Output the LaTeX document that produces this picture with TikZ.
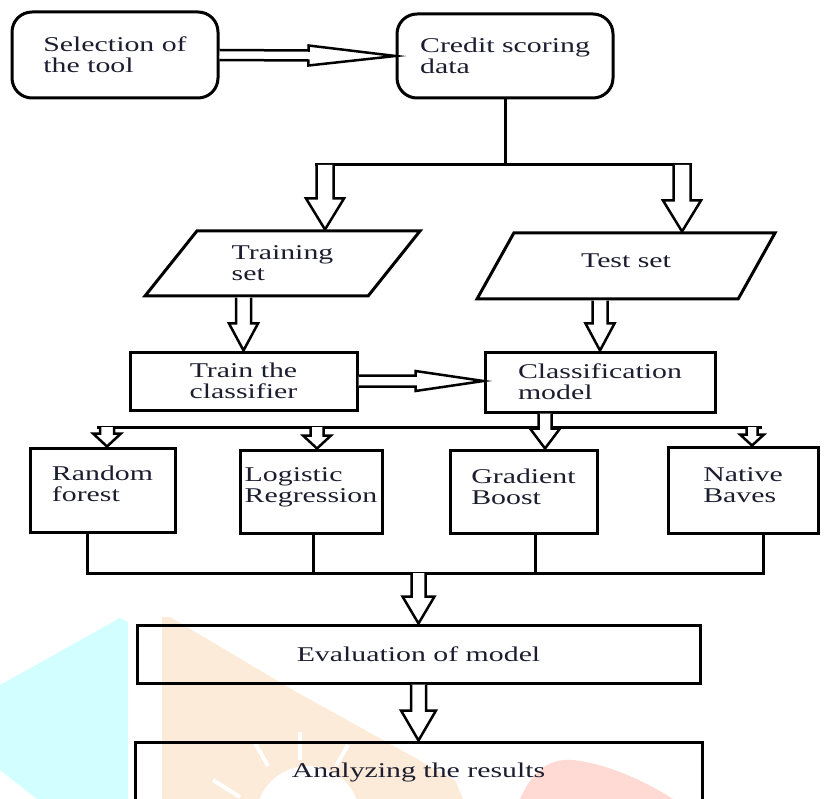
\documentclass[tikz,border=0pt]{standalone}
\usepackage{fontspec}
\setmainfont[FakeStretch=1.42]{Liberation Serif}
\usetikzlibrary{calc,shapes.geometric}

\definecolor{txtcol}{RGB}{28,30,48}
\definecolor{wmcyan}{RGB}{210,254,255}
\definecolor{wmorange}{RGB}{253,235,217}
\definecolor{wmpink}{RGB}{255,218,213}

\tikzset{
  box/.style={draw,line width=3pt,inner sep=2pt,text=txtcol,align=left,
    font=\fontsize{21}{21}\selectfont},
  roundbox/.style={box,rounded corners=20pt},
  dataset/.style={box,trapezium,trapezium left angle=37,trapezium right angle=143,
    trapezium stretches body},
  algbox/.style={box,text depth=13pt},
  link/.style={line width=3pt,line cap=rect},
}

% hollow block arrow: from, to, shaft half width, head half width, head length
\newcommand{\hollowarrow}[5]{%
  \coordinate (ha) at ($(#2)!#5!(#1)$);
  \draw[line width=2.5pt,fill=white]
    ($(#1)!#3!90:(#2)$) -- ($(ha)!#3!90:(#2)$) -- ($(ha)!#4!90:(#2)$) -- (#2)
    -- ($(ha)!#4!-90:(#2)$) -- ($(ha)!#3!-90:(#2)$) -- ($(#1)!#3!-90:(#2)$);
}

\begin{document}
\begin{tikzpicture}[x=1pt,y=-1pt]
\useasboundingbox (0,0) rectangle (824,799);
\clip (0,0) rectangle (824,799);

% faint watermark behind the lower part
\fill[wmcyan] (0,685) -- (120,618) -- (128,622) -- (128,799) -- (37,799) -- (0,770) -- cycle;
\fill[wmorange] (162,617) -- (170,617) -- (293,690) -- (455,780) -- (463,799) -- (162,799) -- cycle;
\fill[white] (308,818) circle[radius=52pt];
\draw[white,line width=4pt] (300,732) -- (300,760);
\draw[white,line width=4pt] (255,743) -- (268,766);
\draw[white,line width=4pt] (348,745) -- (336,766);
\draw[white,line width=4pt] (213,780) -- (240,797);
\fill[wmpink] (520,799) .. controls (532,772) and (548,758) .. (573,760)
  .. controls (610,764) and (650,784) .. (673,799) -- cycle;

\node[roundbox,minimum width=206pt,minimum height=86pt] (sel) at (115,55) {Selection of\\the tool};
\node[roundbox,minimum width=216pt,minimum height=84pt] (cred) at (505,56) {Credit scoring\\data};

\node[dataset,minimum width=275pt,minimum height=65pt] (trset) at (282.5,263.5) {Training\\set};
\node[dataset,minimum width=298pt,minimum height=66pt,text depth=10pt] (teset) at (626,266) {Test set};

\node[box,minimum width=227pt,minimum height=58pt,align=center] (trcls) at (243.5,381) {Train the\\classifier};
\node[box,minimum width=230pt,minimum height=60pt] (model) at (600,382) {Classification\\model};

\node[algbox,minimum width=145pt,minimum height=84pt] (rf) at (102.5,490) {Random\\forest};
\node[algbox,minimum width=142pt,minimum height=83pt] (lr) at (311,491.5) {Logistic\\Regression};
\node[algbox,minimum width=147pt,minimum height=83pt,text depth=9pt] (gb) at (523.5,491.5) {Gradient\\Boost};
\node[algbox,minimum width=150pt,minimum height=86pt,text depth=9pt] (nb) at (743,490) {Native\\Baves};

\node[box,minimum width=563pt,minimum height=58pt,align=center] (eval) at (418.5,654) {Evaluation of model};
\node[box,minimum width=567pt,minimum height=60pt,align=center] (res) at (418.5,772) {Analyzing the results};

% top part
\hollowarrow{sel.east}{cred.west}{5pt}{10pt}{87pt}
\coordinate (split) at (505,165);
\coordinate (splitL) at (325,165);
\coordinate (splitR) at (682,165);
\draw[link] (cred.south) -- (split);
\draw[link] ($(splitL)+(-8.5,0)$) -- ($(splitR)+(8.5,0)$);
\hollowarrow{splitL}{splitL |- trset.north}{8.5pt}{19pt}{31pt}
\hollowarrow{splitR}{splitR |- teset.north}{8.5pt}{19pt}{31pt}

\hollowarrow{trcls.north |- trset.south}{trcls.north}{7.5pt}{14.5pt}{27pt}
\hollowarrow{model.north |- teset.south}{model.north}{7.5pt}{14.5pt}{27pt}
\hollowarrow{trcls.east}{model.west |- trcls.east}{5.5pt}{10pt}{68pt}

% the four classifiers
\coordinate (b1) at (107,427);
\coordinate (b2) at (317,427);
\coordinate (b3) at (545,427);
\coordinate (b4) at (752,427);
\draw[link] ($(b1)+(-8.5,0)$) -- ($(b4)+(8,0)$);
\hollowarrow{b3 |- model.south}{b3 |- gb.north}{6.5pt}{15pt}{20pt}
\hollowarrow{b1}{b1 |- rf.north}{7pt}{14pt}{13pt}
\hollowarrow{b2}{b2 |- lr.north}{6.5pt}{14pt}{13pt}
\hollowarrow{b4}{b4 |- nb.north}{5.5pt}{12pt}{11pt}

\coordinate (c1) at (87,573);
\coordinate (c2) at (313,573);
\coordinate (c3) at (535,573);
\coordinate (c4) at (763,573);
\draw[link] (c1 |- rf.south) -- (c1);
\draw[link] (c2 |- lr.south) -- (c2);
\draw[link] (c3 |- gb.south) -- (c3);
\draw[link] (c4 |- nb.south) -- (c4);
\draw[link] (c1) -- (c4);

% evaluation
\hollowarrow{eval.north |- c1}{eval.north}{7pt}{16pt}{27pt}
\hollowarrow{eval.south}{res.north}{7.5pt}{17.5pt}{30pt}
\end{tikzpicture}
\end{document}
